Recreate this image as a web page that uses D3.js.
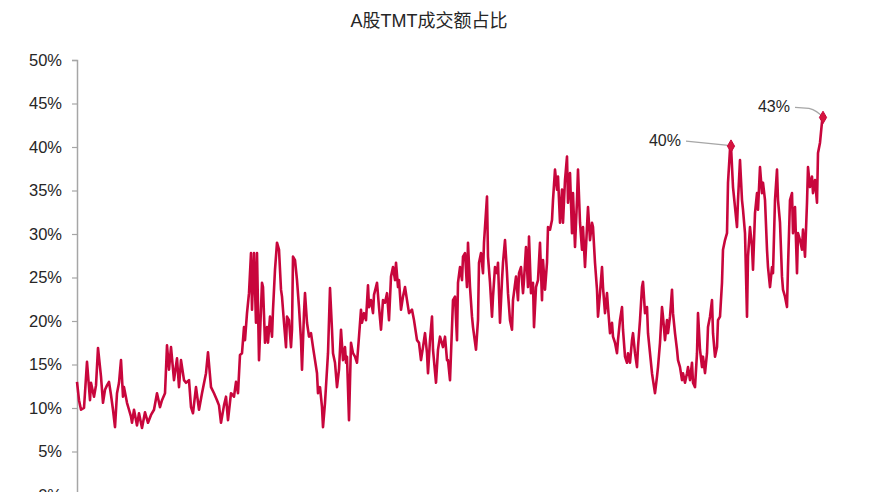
<!DOCTYPE html>
<html>
<head>
<meta charset="utf-8">
<script src="https://cdn.jsdelivr.net/npm/d3@7"></script>
<style>
  html, body { margin: 0; padding: 0; background: #fff; }
  svg { display: block; }
</style>
</head>
<body>
<svg id="chart" width="870" height="492"></svg>
<script>
// ---- data (week index since start of series, TMT share of A-share turnover in %) ----
const week = [
  0,2,4,7,10,13,14,17,19,21,24,26,28,30,32,34,36,38,40,42,44,46,47,50,52,54,55,57,60,62,65,68,71,74,77,80,83,85,88,90,92,94,97,100,102,104,107,109,112,114,116,119,122,125,129,131,134,137,140,142,144,147,149,151,154,157,159,161,163,165,167,168,170,172,174,175,177,179,180,182,185,
  186,188,190,191,193,195,196,198,200,202,204,205,207,209,210,212,214,215,216,218,220,222,224,225,227,228,230,232,234,236,238,240,241,243,245,246,248,250,251,253,255,256,258,260,262,264,266,268,269,270,272,274,276,278,280,282,284,285,287,289,291,292,294,296,297,300,302,304,306,308,310,312,314,316,318,319,321,322,324,326,328,330,332,335,337,340,342,344,346,348,350,351,353,355,356,359,361,363,366,368,
  370,371,373,375,376,378,380,381,383,385,386,388,390,391,393,395,396,399,401,402,404,406,407,410,411,413,415,416,418,420,421,423,425,426,428,430,431,433,435,436,439,441,442,444,446,447,449,451,452,454,456,457,459,461,463,465,466,468,470,471,473,475,476,478,480,481,483,485,486,488,490,491,493,495,496,498,500,501,503,505,506,508,510,511,513,515,516,518,520,521,523,525,526,528,530,531,533,535,536,538,540,541,543,545,546,548,550,551,553,
  555,556,558,560,561,563,565,566,568,570,571,573,575,576,578,580,581,583,585,586,588,590,591,593,595,596,598,600,601,603,605,606,608,610,611,613,615,616,618,620,621,623,625,626,628,630,631,633,635,636,638,640,641,643,645,646,648,650,651,653,654,656,658,660,661,663,665,666,668,670,671,673,675,676,678,680,681,683,685,686,688,690,691,693,695,696,698,700,701,703,705,706,708,710,711,713,715,716,718,720,721,723,725,726,728,730,731,733,735,736,738,740,741,743,745,746
];
const tmtShare = [
  13.0,10.9,9.8,10.0,15.3,10.9,12.9,11.3,12.6,16.9,13.6,10.6,12.1,12.6,13.0,11.5,9.8,7.8,11.7,12.9,15.5,11.3,12.4,10.6,9.8,9.0,8.3,9.8,8.0,9.4,7.7,9.5,8.3,9.2,9.8,11.7,10.1,10.9,11.7,17.2,14.4,17.0,13.2,15.7,12.4,15.5,13.2,12.9,13.2,10.1,9.4,12.4,9.8,11.7,14.0,16.4,12.4,11.7,10.9,10.3,8.3,10.3,11.3,8.6,11.7,11.3,13.0,11.7,16.1,16.3,19.3,17.8,20.9,23.2,27.8,21.3,27.8,19.8,27.8,15.5,24.4,
  23.9,17.5,19.3,17.5,20.5,18.2,21.3,25.9,29.0,28.2,23.6,22.8,19.8,17.0,20.5,20.1,17.0,19.0,27.4,27.0,24.7,21.6,17.8,14.4,20.9,23.2,19.8,18.2,18.6,17.0,15.5,14.0,11.7,12.4,10.1,7.8,10.6,14.4,16.3,23.8,19.0,16.3,15.2,12.4,14.4,19.0,15.5,17.0,15.2,15.9,8.6,17.5,16.3,15.9,15.2,18.2,21.3,19.8,20.9,20.1,24.1,21.6,22.4,20.9,23.0,24.4,21.6,19.0,22.4,22.1,23.2,20.1,25.1,26.2,24.7,26.7,23.9,24.7,21.3,22.8,23.9,22.4,20.9,21.3,20.1,17.8,17.5,15.5,17.0,18.6,16.3,14.0,17.8,20.5,16.7,12.9,16.7,18.2,17.0,18.2,
  15.5,15.5,13.2,19.3,22.4,22.8,17.8,24.4,26.2,24.7,27.4,27.8,23.9,29.0,23.9,20.5,19.3,16.7,20.1,26.7,27.8,25.5,29.0,34.3,27.4,24.4,20.5,22.8,26.2,25.5,26.7,19.8,24.7,26.7,29.3,25.5,23.2,20.1,19.0,22.4,25.1,22.4,25.5,26.2,23.2,24.7,28.5,23.9,29.7,23.2,24.4,19.3,23.9,24.7,29.0,22.4,27.0,23.6,26.7,30.8,30.5,31.6,33.9,37.4,35.1,36.6,31.3,35.1,31.3,36.2,38.9,33.6,37.0,30.1,34.7,28.5,33.9,37.4,31.3,28.2,30.8,26.2,30.8,33.1,29.3,31.3,30.8,26.7,23.6,20.5,23.2,26.2,23.9,20.9,23.2,21.6,18.6,19.8,18.2,17.5,16.3,17.8,20.1,21.6,19.0,15.9,15.2,16.3,15.2,
  17.8,18.6,16.3,14.7,17.0,20.1,23.9,24.5,20.9,21.6,18.6,16.3,14.0,13.2,11.7,13.6,14.7,17.5,21.6,20.5,17.8,20.1,18.6,20.5,23.6,20.9,18.6,16.7,15.5,14.7,13.2,14.0,12.9,14.0,14.7,13.2,15.2,12.9,12.4,16.3,20.9,16.7,14.7,15.9,14.0,16.3,19.3,20.5,22.4,18.6,15.9,17.0,20.1,20.5,24.4,28.2,29.3,30.1,35.9,39.7,40.1,35.4,33.1,30.8,33.9,38.5,33.9,32.8,30.1,20.5,27.4,30.8,28.5,25.9,32.4,34.7,32.8,37.7,34.7,35.9,33.9,28.2,26.2,23.9,26.2,25.5,33.9,37.4,33.9,31.3,25.1,23.6,22.8,21.6,26.2,33.9,34.7,30.1,33.1,25.5,30.1,29.3,28.2,30.5,27.4,33.6,37.7,35.4,36.6,34.7,36.2,33.6,39.3,40.5,42.9,43.4
];
const yTicks = [0, 5, 10, 15, 20, 25, 30, 35, 40, 45, 50];
const chartTitle = "A股TMT成交额占比";
// annotated points
const annoWeeks = [654, 746];
const annoValues = [40.1, 43.4];
const annoLabels = ["40%", "43%"];

// ---- drawing ----
const svg = d3.select("#chart");
const x = d3.scaleLinear().domain([0, 746]).range([77, 823]);
const y = d3.scaleLinear().domain([0, 50]).range([495, 60]);

const fontFam = "Arial, 'Liberation Sans', 'Noto Sans CJK SC', sans-serif";

svg.append("text")
  .attr("x", 429).attr("y", 27)
  .attr("text-anchor", "middle")
  .attr("font-family", fontFam)
  .attr("font-size", 18)
  .attr("fill", "#262626")
  .text(chartTitle);

const yAxis = d3.axisLeft(y)
  .tickValues(yTicks)
  .tickFormat(d => d + "%")
  .tickSize(5)
  .tickPadding(10);

const gy = svg.append("g").attr("transform", "translate(77,0)").call(yAxis);
gy.select(".domain").attr("stroke", "#a6a6a6").attr("stroke-width", 1.5);
gy.selectAll(".tick line").attr("stroke", "#a6a6a6").attr("stroke-width", 1.2);
gy.selectAll(".tick text")
  .attr("font-family", fontFam)
  .attr("font-size", 16.5)
  .attr("fill", "#262626");

const data = week.map((w, i) => ({ w, v: tmtShare[i] }));
const line = d3.line().x(d => x(d.w)).y(d => y(d.v));

svg.append("path")
  .datum(data)
  .attr("fill", "none")
  .attr("stroke", "#c8063c")
  .attr("stroke-width", 2.6)
  .attr("stroke-linejoin", "round")
  .attr("d", line);

// annotations
const annoOffsets = [[-45, -5], [-28, -10]];
annoWeeks.forEach((w, i) => {
  const px = x(w), py = y(annoValues[i]);
  const [dx, dy] = annoOffsets[i];
  const lx = px + dx, ly = py + dy;
  const path = i === 0
    ? `M${lx},${ly} L${px - 5},${py - 1} L${px},${py}`
    : `M${lx},${ly} L${px - 14},${py - 9} Q${px - 6},${py - 7} ${px},${py}`;
  svg.append("path")
    .attr("d", path)
    .attr("fill", "none")
    .attr("stroke", "#a6a6a6")
    .attr("stroke-width", 1.3);
  svg.append("path")
    .attr("d", d3.symbol().type(d3.symbolDiamond).size(45)())
    .attr("transform", `translate(${px},${py})`)
    .attr("fill", "#d6153f")
    .attr("stroke", "#c8063c");
  svg.append("text")
    .attr("x", lx - 5).attr("y", ly + 5)
    .attr("text-anchor", "end")
    .attr("font-family", fontFam)
    .attr("font-size", 16)
    .attr("fill", "#262626")
    .text(annoLabels[i]);
});
</script>
</body>
</html>
